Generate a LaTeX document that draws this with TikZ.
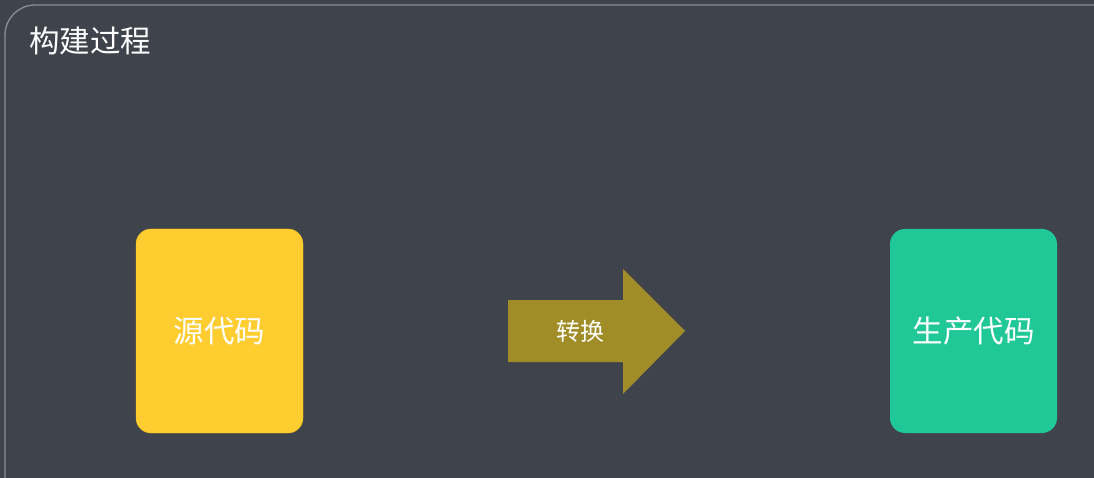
\documentclass[tikz,border=0pt]{standalone}
\usepackage{fontspec}
\setmainfont{Noto Sans CJK SC}
\usetikzlibrary{positioning}
\definecolor{bgdark}{HTML}{3F434C}
\definecolor{framegray}{HTML}{8A8D93}
\definecolor{srcyellow}{HTML}{FFCD30}
\definecolor{srcedge}{HTML}{F2C01E}
\definecolor{prodgreen}{HTML}{20C797}
\definecolor{convolive}{HTML}{A08D27}
\begin{document}
\begin{tikzpicture}[x=1pt,y=-1pt,
        code box/.style={rounded corners=15pt,minimum width=167pt,minimum height=204pt,
          text=white,font=\fontsize{30.5}{34}\selectfont,inner sep=0pt}]

      \clip (0,0) rectangle (1094,478);
      \fill[bgdark] (0,0) rectangle (1094,478);
      \draw[framegray,line width=1.3pt,rounded corners=30pt] (5,500) -- (5,5) -- (1120,5);

      \node[anchor=west,text=white,font=\fontsize{30.5}{34}\selectfont,inner sep=0pt] (title) at (29,41) {构建过程};

      \node[code box,fill=srcyellow,draw=srcedge] (src) at (219.5,331) {源代码};
      \node[code box,fill=prodgreen] (prod) at (973.5,331) {生产代码};

      \coordinate (tail) at (508,331);
      \coordinate (tip) at (685,331);
      \fill[convolive] (tail) ++(0,-31) -- (623,300) -- (623,269) -- (tip)
        -- (623,394) -- (623,362) -- ++(-115,0) -- cycle;
      \node[text=white,font=\fontsize{24}{28}\selectfont,inner sep=0pt] (conv) at (580,331) {转换};
    \end{tikzpicture}
\end{document}
